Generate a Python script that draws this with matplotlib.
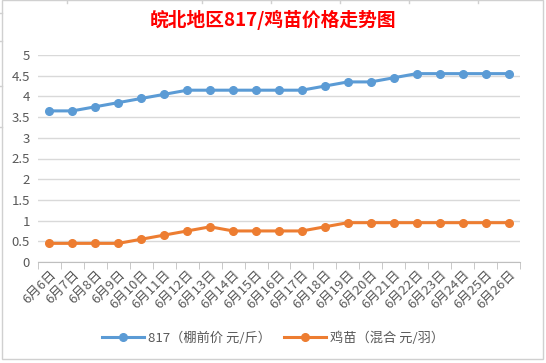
import numpy as np
import matplotlib.pyplot as plt
from matplotlib.lines import Line2D
from matplotlib.patches import Rectangle

plt.rcParams['font.family'] = ['Noto Sans CJK SC', 'DejaVu Sans']

dates = [f'6月{d}日' for d in range(6, 27)]
price_817 = [3.65, 3.65, 3.75, 3.85, 3.95, 4.05, 4.15, 4.15, 4.15, 4.15, 4.15,
             4.15, 4.25, 4.35, 4.35, 4.45, 4.55, 4.55, 4.55, 4.55, 4.55]
price_chick = [0.45, 0.45, 0.45, 0.45, 0.55, 0.65, 0.75, 0.85, 0.75, 0.75, 0.75,
               0.75, 0.85, 0.95, 0.95, 0.95, 0.95, 0.95, 0.95, 0.95, 0.95]
y_ticks = [0, 0.5, 1, 1.5, 2, 2.5, 3, 3.5, 4, 4.5, 5]

W, H = 546, 363
fig = plt.figure(figsize=(W / 100, H / 100), dpi=100)
fig.patch.set_facecolor('white')

# chart border + bits of the spreadsheet grid behind it
fig.add_artist(Rectangle((2 / W, 1 - 359 / H), 541 / W, 359 / H, transform=fig.transFigure,
                         fill=False, edgecolor='#d0d0d0', lw=1))
for x in [67, 202, 271, 340, 409, 478]:
    fig.add_artist(Line2D([x / W, x / W], [1, 1 - 3 / H], transform=fig.transFigure, color='#d0d0d0', lw=1))
for y in [13, 41, 86, 127]:
    fig.add_artist(Line2D([0, 2 / W], [1 - y / H, 1 - y / H], transform=fig.transFigure, color='#d0d0d0', lw=1))

ax = fig.add_axes([38 / W, 1 - 262 / H, 482 / W, 207 / H])
x = np.arange(len(dates))
ax.plot(x, price_817, color='#5b9bd5', lw=2.2, marker='o', ms=5.5, label='817（棚前价 元/斤）', zorder=3)
ax.plot(x, price_chick, color='#ed7d31', lw=2.2, marker='o', ms=5.5, label='鸡苗（混合 元/羽）', zorder=3)

ax.set_xlim(-0.5, len(dates) - 0.5)
ax.set_ylim(0, 5)
ax.set_yticks(y_ticks)
ax.set_yticklabels([f'{v:g}' for v in y_ticks])
ax.grid(axis='y', color='#d9d9d9', lw=1)
ax.set_axisbelow(True)
for s in ['top', 'right', 'left']:
    ax.spines[s].set_visible(False)
ax.spines['bottom'].set_color('#bfbfbf')
ax.tick_params(axis='y', length=0, labelsize=9.5, labelcolor='#595959', pad=6)

ax.set_xticks(x)
ax.set_xticklabels(dates, rotation=45, ha='right', rotation_mode='anchor')
ax.tick_params(axis='x', length=0, labelsize=9.5, labelcolor='#595959', pad=4)
ax.set_xticks(np.arange(-0.5, len(dates)), minor=True)
ax.tick_params(axis='x', which='minor', length=5, color='#bfbfbf')

fig.text(0.5, 1 - 20 / H, '皖北地区817/鸡苗价格走势图', ha='center', va='center',
         color='#ff0000', fontsize=13.5, fontweight='bold')

fig.legend(loc='center', bbox_to_anchor=(0.5, 1 - 338 / H), ncol=2, frameon=False,
           fontsize=9.5, labelcolor='#595959', handlelength=3.2, columnspacing=1.0, handletextpad=0.3)

fig.savefig('out.png', dpi=100)
